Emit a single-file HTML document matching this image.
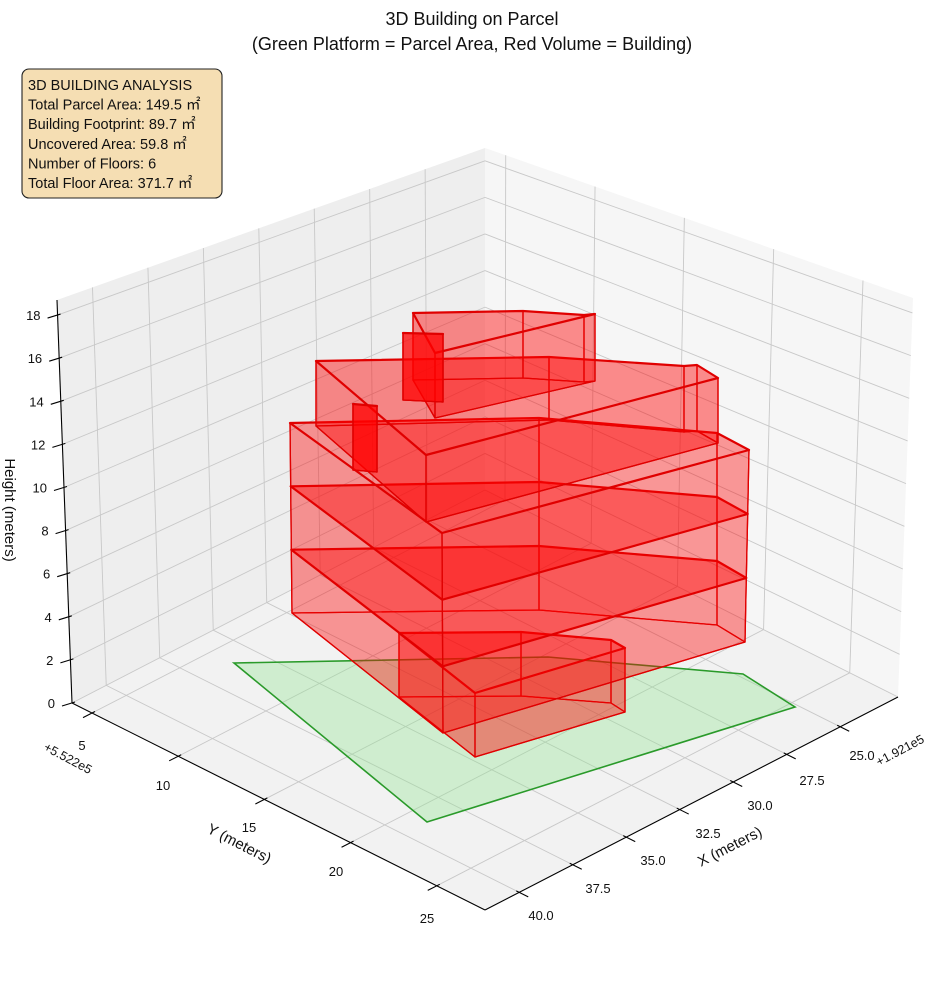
<!DOCTYPE html>
<html><head><meta charset="utf-8"><style>
html,body{margin:0;padding:0;background:#fff;}
svg text{font-family:"Liberation Sans",sans-serif;fill:#111;}
</style></head><body>
<svg id="s" width="944" height="992" xmlns="http://www.w3.org/2000/svg"></svg>
<script>
const S=document.getElementById('s');
const NS='http://www.w3.org/2000/svg';
function el(t,a,txt){const e=document.createElementNS(NS,t);for(const k in a)e.setAttribute(k,a[k]);if(txt!==undefined)e.textContent=txt;S.appendChild(e);return e;}
function P(s,t,h){const fx=72+s*413+t*413, fy=703+s*207-t*213;const tx=57+s*428+t*428, ty=300+s*150-t*152;return [fx+h*(tx-fx),fy+h*(ty-fy)];}
function pts(a){return a.map(p=>p[0].toFixed(1)+','+p[1].toFixed(1)).join(' ');}
function line(a,b,st){el('line',Object.assign({x1:a[0],y1:a[1],x2:b[0],y2:b[1]},st));}
const sy=y=>(y-3.84)/23.96, tx=x=>(41.6-x)/19.3, hz=z=>z/18.7;
el('polygon',{points:pts([P(0,0,0),P(0,0,1),P(0,1,1),P(0,1,0)]),fill:'#eeeeee'});
el('polygon',{points:pts([P(0,1,0),P(0,1,1),P(1,1,1),P(1,1,0)]),fill:'#f6f6f6'});
el('polygon',{points:pts([P(0,0,0),P(0,1,0),P(1,1,0),P(1,0,0)]),fill:'#f2f2f2'});
const g={stroke:'#c8c8c8','stroke-width':0.9};
const xt=[25,27.5,30,32.5,35,37.5,40], yt=[5,10,15,20,25], zt=[0,2,4,6,8,10,12,14,16,18];
xt.forEach(x=>{const t=tx(x);line(P(0,t,0),P(1,t,0),g);line(P(0,t,0),P(0,t,1),g);});
yt.forEach(y=>{const s=sy(y);line(P(s,0,0),P(s,1,0),g);line(P(s,1,0),P(s,1,1),g);});
zt.forEach(z=>{const h=hz(z);line(P(0,0,h),P(0,1,h),g);line(P(0,1,h),P(1,1,h),g);});
el('polygon',{points:'234,663 548,657 743,674 795,707 427,822',fill:'rgba(144,230,144,0.35)',stroke:'#2a9a2a','stroke-width':1.6});
function prism(b,t,op){
  const st={fill:'rgba(255,0,0,'+op+')',stroke:'#e00000','stroke-width':1.3,'stroke-linejoin':'round'};
  el('polygon',Object.assign({points:pts(b)},st));
  for(let i=0;i<b.length;i++){const j=(i+1)%b.length;el('polygon',Object.assign({points:pts([b[i],b[j],t[j],t[i]])},st));}
  el('polygon',Object.assign({points:pts(t)},st,{'stroke-width':2.2}));
}
function lerp(a,b,f){return a.map((p,i)=>[p[0]+(b[i][0]-p[0])*f,p[1]+(b[i][1]-p[1])*f]);}
prism([[399,697],[521,696],[611,703],[625,712],[475,757]],[[399,633],[521,632],[611,640],[625,648],[475,693]],0.24);
const z3=[[292,613],[539,610],[717,625],[745,642],[443,733]], z12=[[290,423],[539,418],[717,433],[749,450],[442,533]];
const z6=lerp(z3,z12,1/3), z9=lerp(z3,z12,2/3);
prism(z3,z6,0.22);prism(z6,z9,0.22);prism(z9,z12,0.22);
prism([[316,426],[549,420],[684,432],[697,431],[718,443],[426,522]],[[316,361],[549,357],[684,366],[697,365],[718,378],[426,455]],0.25);
prism([[353,470],[377,472],[377,472],[353,470]],[[353,404],[377,406],[377,406],[353,404]],0.5);
prism([[413,380],[523,378],[584,382],[595,381],[435,418]],[[413,313],[523,311],[584,315],[595,314],[435,353]],0.25);
prism([[403,400],[443,402],[443,402],[403,400]],[[403,333],[443,334],[443,334],[403,333]],0.5);
const ax={stroke:'#000','stroke-width':1.1};
line([57,300],[72,703],ax);line([72,703],[485,910],ax);line([485,910],[898,697],ax);
zt.forEach(z=>{const p=[72-15*hz(z),703-403*hz(z)];line([p[0]+3,p[1]-1],[p[0]-10,p[1]+3],ax);
  el('text',{x:p[0]-17,y:p[1]+5,'text-anchor':'end','font-size':13},String(z));});
yt.forEach(y=>{const s=sy(y);const p=P(s,0,0);line([p[0]+3,p[1]-1.5],[p[0]-9,p[1]+4.6],ax);});
const yl={5:[82,745],10:[163,785],15:[249,827],20:[336,871],25:[427,918]};
for(const k in yl)el('text',{x:yl[k][0],y:yl[k][1]+5,'text-anchor':'middle','font-size':13},k);
xt.forEach(x=>{const p=P(1,tx(x),0);line([p[0]-3,p[1]-1.5],[p[0]+9,p[1]+4.5],ax);});
const xl=[[25,'25.0',862,755],[27.5,'27.5',812,780],[30,'30.0',760,805],[32.5,'32.5',708,833],[35,'35.0',653,860],[37.5,'37.5',598,888],[40,'40.0',541,915]];
xl.forEach(a=>el('text',{x:a[2],y:a[3]+5,'text-anchor':'middle','font-size':13},a[1]));
el('text',{x:0,y:0,'font-size':15,'text-anchor':'middle',transform:'translate(5,510) rotate(90)'},'Height (meters)');
el('text',{x:0,y:0,'font-size':15,'text-anchor':'middle',transform:'translate(237,848) rotate(27)'},'Y (meters)');
el('text',{x:0,y:0,'font-size':15,'text-anchor':'middle',transform:'translate(732,851) rotate(-27)'},'X (meters)');
el('text',{x:0,y:0,'font-size':12.5,'text-anchor':'middle',transform:'translate(66,762) rotate(28)'},'+5.522e5');
el('text',{x:0,y:0,'font-size':12.5,'text-anchor':'middle',transform:'translate(902,754) rotate(-28)'},'+1.921e5');
el('text',{x:472,y:25,'text-anchor':'middle','font-size':18},'3D Building on Parcel');
el('text',{x:472,y:50,'text-anchor':'middle','font-size':18},'(Green Platform = Parcel Area, Red Volume = Building)');
el('rect',{x:22,y:69,width:200,height:129,rx:7,fill:'#f5deb3',stroke:'#222','stroke-width':1.1});
['3D BUILDING ANALYSIS','Total Parcel Area: 149.5 ㎡','Building Footprint: 89.7 ㎡','Uncovered Area: 59.8 ㎡','Number of Floors: 6','Total Floor Area: 371.7 ㎡'].forEach((t,i)=>
  el('text',{x:28,y:90+i*19.6,'font-size':14.5},t));
</script>
</body></html>
